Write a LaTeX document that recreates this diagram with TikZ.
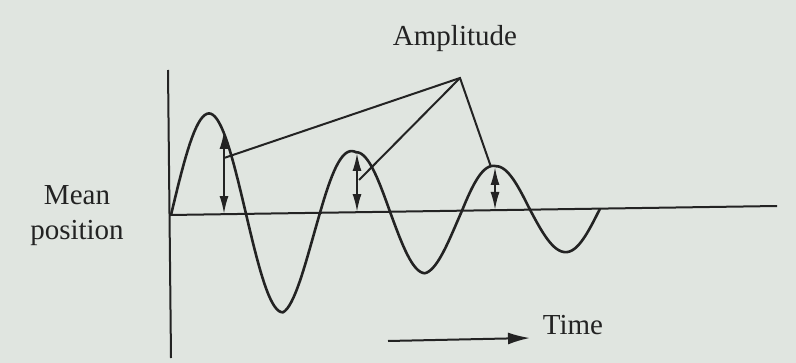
\documentclass[tikz,border=0pt]{standalone}
\usepackage{fontspec}
\setmainfont{Liberation Serif}
\usetikzlibrary{arrows.meta}
\definecolor{paper}{RGB}{224,229,224}
\definecolor{ink}{RGB}{35,35,35}
\tikzset{
  lbl/.style={font=\fontsize{14.5}{17.5}\selectfont, text=ink, align=center, inner sep=0pt},
  amp/.style={{Latex[length=9pt,width=4.5pt]}-{Latex[length=9pt,width=4.5pt]}, line width=1pt},
  lead/.style={line width=1pt},
}
\begin{document}
\begin{tikzpicture}[x=0.5pt,y=-0.5pt,draw=ink,line width=1pt]
  \fill[paper] (0,0) rectangle (796,363);
  \useasboundingbox (0,0) rectangle (796,363);
  % Axes
  \coordinate (top) at (168,70);
  \coordinate (bot) at (171,358);
  \coordinate (o) at (170,215);
  \coordinate (far) at (777,206);
  \draw (top) -- (bot);
  \draw (o) -- (far);
  % Damped wave, one quarter at a time
  \draw[line width=1.3pt,line join=round] (171,214)
    \foreach \xa/\xb/\ea/\eb/\ta in {171/209/101/101/0, 209/246/101/100/90,
      246/283/-100/-99/0, 283/320/-99/-79.5/90, 320/356/79.5/60/0,
      356/390/60/61/90, 390/425/-61/-62/0, 425/462/-62/-53/90,
      462/496/53/44/0, 496/530/44/43.5/90, 530/566/-43.5/-43/0,
      566/600/-43/-43/90}
    { -- plot[domain=0:90,samples=19,variable=\t]
      ({\xa+(\xb-\xa)*\t/90},
       {215-0.0148*(\xa+(\xb-\xa)*\t/90-170)-(\ea+(\eb-\ea)*\t/90)*sin(\ta+\t)}) };
  % Amplitude arrows
  \coordinate (t1) at (224,131); \coordinate (b1) at (224,214);
  \coordinate (t2) at (357,153); \coordinate (b2) at (357,212);
  \coordinate (t3) at (495,167); \coordinate (b3) at (495,210);
  \draw[amp] (t1) -- (b1);
  \draw[amp] (t2) -- (b2);
  \draw[amp] (t3) -- (b3);
  % Leaders
  \coordinate (apex) at (460,78);
  \coordinate (m1) at (224,158);
  \coordinate (m2) at (359,180);
  \coordinate (m3) at (491,167);
  \draw[lead] (m1) -- (apex) -- (m3);
  \draw[lead] (apex) -- (m2);
  % Labels
  \node[lbl] (amplitude) at (455,39) {Amplitude};
  \node[lbl] (mean) at (77,216) {Mean\\position};
  \node[lbl] (time) at (573,325) {Time};
  \coordinate (ts) at (388,341);
  \coordinate (te) at (530,338);
  \draw[-{Latex[length=11pt,width=6pt]}] (ts) -- (te);
\end{tikzpicture}
\end{document}
